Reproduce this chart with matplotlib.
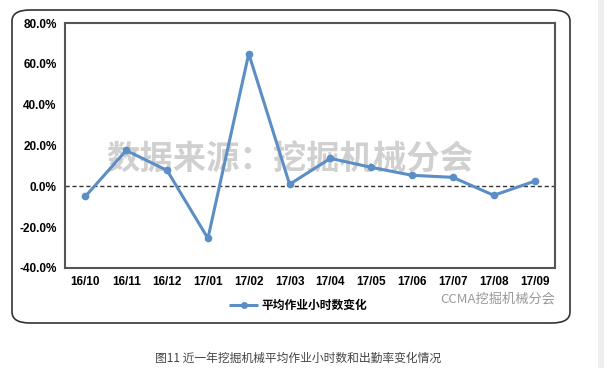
import matplotlib.pyplot as plt
from matplotlib.patches import FancyBboxPatch, Rectangle

plt.rcParams['font.family'] = ['Liberation Sans', 'Noto Sans CJK SC', 'DejaVu Sans']

months = ['16/10', '16/11', '16/12', '17/01', '17/02', '17/03',
          '17/04', '17/05', '17/06', '17/07', '17/08', '17/09']
hours_change = [-4.9, 17.6, 7.8, -25.5, 65.0, 1.0, 13.7, 9.3, 5.4, 4.4, -4.4, 2.5]
y_ticks = [-40, -20, 0, 20, 40, 60, 80]
series_name = '平均作业小时数变化'
caption = '图11 近一年挖掘机械平均作业小时数和出勤率变化情况'

W, H = 604, 368
cjk = ['Noto Sans CJK SC', 'DejaVu Sans']
line_color = '#5b8ec4'

fig = plt.figure(figsize=(W / 100, H / 100), dpi=100)

# outer chart frame with rounded corners
frame = FancyBboxPatch((12 / W, 1 - 323 / H), (570 - 12) / W, (323 - 10) / H,
                       boxstyle='round,pad=0,rounding_size=0.03',
                       transform=fig.transFigure, facecolor='white',
                       edgecolor='#333333', linewidth=1.2, zorder=-2)
fig.patches.append(frame)
# scrollbar strip on the right
fig.patches.append(Rectangle((598 / W, 0), 6 / W, 1, transform=fig.transFigure,
                             facecolor='#eeeeee', edgecolor='none', zorder=-2))

ax = fig.add_axes([65 / W, 1 - 268 / H, (555 - 65) / W, (268 - 23) / H])
x = range(len(months))
ax.plot(x, hours_change, color=line_color, linewidth=2.2, marker='o',
        markersize=4.5, zorder=3)
ax.axhline(0, color='#333333', linestyle=(0, (3, 2)), linewidth=1, zorder=2)

ax.set_xlim(-0.5, len(months) - 0.5)
ax.set_ylim(-40, 80)
ax.set_yticks(y_ticks)
ax.set_yticklabels([f'{v:.1f}%' for v in y_ticks], fontsize=8.5, fontweight='bold')
ax.set_xticks(list(x))
ax.set_xticklabels(months, fontsize=8.5, fontweight='bold')
ax.tick_params(length=0, pad=6)
for s in ax.spines.values():
    s.set_color('#555555')
    s.set_linewidth(1.5)

# watermark, under the line
ax.text(290 / W, 1 - 160 / H, '数据来源：挖掘机械分会', fontsize=24,
        fontweight='bold', color='#d0d0d0', ha='center', va='center',
        family=cjk, zorder=1, transform=fig.transFigure)

# legend
fig.add_artist(plt.Line2D([229 / W, 258 / W], [1 - 305 / H, 1 - 305 / H],
                          transform=fig.transFigure, color=line_color,
                          linewidth=2.2, solid_capstyle='butt'))
fig.add_artist(plt.Line2D([243.5 / W], [1 - 305 / H], transform=fig.transFigure,
                          color=line_color, marker='o', markersize=4))
fig.text(262 / W, 1 - 305 / H, series_name, fontsize=8.5, fontweight='bold',
         ha='left', va='center', family=cjk)

# source logo text
fig.text(440 / W, 1 - 299 / H, 'CCMA挖掘机械分会', fontsize=9.5, color='#999999',
         ha='left', va='center', family=cjk)

# caption
fig.text(298 / W, 1 - 358 / H, caption, fontsize=8.5, color='#444444',
         ha='center', va='center', family=cjk)

fig.savefig('out.png', dpi=100)
